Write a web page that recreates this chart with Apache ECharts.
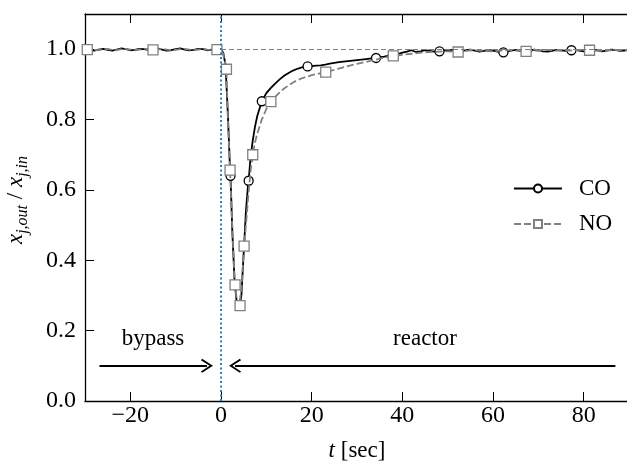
<!DOCTYPE html>
<html><head><meta charset="utf-8">
<script src="https://cdn.jsdelivr.net/npm/echarts@6/dist/echarts.min.js"></script>
<style>html,body{margin:0;padding:0;background:#fff}#c{width:627px;height:465px}</style>
</head><body><div id="c"></div>
<script>
// ---- data ----
const coT = [-30,-29,-28,-27,-26,-25,-24,-23,-22,-21,-20,-19,-18,-17,-16,-15,-14,-13,-12,-11,-10,-9,-8,-7,-6,-5,-4,-3,-2,-1,0,
  0.5,1,1.5,2,2.5,3,3.5,4,4.5,5,5.5,6,6.5,7,7.5,8,9,10,11,12,13,14,15,16,17,18,19,20,21,22,23,24,26,28,30,32,34,36,38,39,40,41,42,43,44,45,46,47,48,49,50,
  51,52,53,54,55,56,57,58,59,60,61,62,63,64,65,66,67,68,69,70,71,72,73,74,75,76,77,78,79,80,81,82,83,84,85,86,87,88,89,90];
const coY = [1.000,0.998,0.996,0.999,1.001,0.998,0.996,0.999,1.002,1.000,0.997,0.998,1.001,1.000,0.998,0.999,1.002,0.999,0.996,0.997,1.000,1.002,0.999,0.997,0.998,1.001,1.000,0.997,0.999,1.001,1.000,
  0.990,0.955,0.82,0.655,0.48,0.34,0.275,0.26,0.30,0.42,0.54,0.62,0.69,0.74,0.78,0.81,0.852,0.875,0.890,0.903,0.915,0.925,0.933,0.940,0.945,0.949,0.951,0.952,0.953,0.954,0.956,0.959,0.963,0.966,0.969,0.972,0.975,0.979,0.984,0.986,0.990,0.993,0.997,0.992,0.994,0.997,0.995,0.993,0.994,0.997,0.996,
  0.998,0.996,0.994,0.997,0.999,0.996,0.993,0.995,0.998,0.996,0.993,0.991,0.993,0.996,0.998,0.995,0.993,0.996,0.999,0.997,0.994,0.993,0.995,0.998,0.997,0.995,0.997,0.999,0.996,0.994,0.996,0.999,0.997,0.994,0.996,0.999,0.998,0.995,0.996,0.998];
const coMarkT = [2.1, 6.1, 9.0, 19.1, 34.2, 48.2, 62.3, 77.3];
const coMarkY = [0.640, 0.626, 0.852, 0.951, 0.975, 0.994, 0.991, 0.997];

const noT = [-30,-29,-28,-27,-26,-25,-24,-23,-22,-21,-20,-19,-18,-17,-16,-15,-14,-13,-12,-11,-10,-9,-8,-7,-6,-5,-4,-3,-2,-1,0,
  0.5,1,1.5,2,2.5,3,3.5,4,4.5,5,5.5,6,6.5,7,7.5,8,9,10,11,12,13,14,15,16,17,18,19,20,21,22,23,24,26,28,30,32,34,36,38,40,42,44,46,48,50,
  52,54,56,58,60,62,64,66,68,70,72,74,76,78,80,82,84,86,88,90];
const noY = [0.999,1.000,0.998,0.997,1.000,1.001,0.998,0.997,1.000,1.001,0.999,0.997,0.999,1.001,1.000,0.998,0.999,1.001,0.999,0.997,0.998,1.000,1.001,0.999,0.997,0.999,1.001,0.999,0.998,0.999,1.000,
  0.985,0.955,0.81,0.656,0.49,0.345,0.285,0.27,0.32,0.42,0.50,0.58,0.65,0.70,0.735,0.76,0.80,0.83,0.851,0.865,0.878,0.889,0.898,0.906,0.913,0.918,0.922,0.926,0.929,0.932,0.935,0.938,0.945,0.952,0.958,0.964,0.970,0.976,0.981,0.984,0.987,0.990,0.992,0.993,0.994,
  0.993,0.995,0.997,0.995,0.994,0.996,0.997,0.995,0.994,0.996,0.998,0.996,0.995,0.997,0.998,0.996,0.995,0.997,0.998,0.996];
const noMarkT = [-29.5, -15, -0.9, 1.2, 2.0, 3.1, 4.2, 5.1, 7.0, 11.0, 23.1, 38.0, 52.3, 67.3, 81.3];
const noMarkY = [0.999, 0.998, 0.999, 0.943, 0.656, 0.330, 0.271, 0.440, 0.700, 0.851, 0.935, 0.981, 0.992, 0.994, 0.997];

const xTicks = [-20, 0, 20, 40, 60, 80];
const yTicks = [0, 0.2, 0.4, 0.6, 0.8, 1.0];
const labels = {bypass: 'bypass', reactor: 'reactor'};

// ---- build ----
function merge(t, y, mt, my) {
  const pts = t.map((x, i) => ({value: [x, y[i]], symbol: 'none'}));
  mt.forEach((x, i) => pts.push({value: [x, my[i]]}));
  pts.sort((a, b) => a.value[0] - b.value[0]);
  return pts;
}
const SERIF = "Liberation Serif";
const chevron = 'path://M7,0 L14,10.8 L12.6,12 L7,3.4 L1.4,12 L0,10.8 Z';

const chart = echarts.init(document.getElementById('c'), null, {renderer: 'canvas'});
const axisCommon = {
  axisLine: {show: true, onZero: false, lineStyle: {color: '#000', width: 1.3}},
  splitLine: {show: false}
};
chart.setOption({
  animation: false,
  backgroundColor: '#fff',
  textStyle: {fontFamily: SERIF},
  grid: {left: 85, top: 14, bottom: 64, right: -2, containLabel: false, outerBoundsMode: 'none'},
  legend: {
    data: ['CO', 'NO'], orient: 'vertical', left: 513, top: 177, padding: 0,
    itemWidth: 48, itemHeight: 10, itemGap: 12.5,
    textStyle: {fontFamily: SERIF, fontSize: 23, color: '#000', padding: [0, 0, 0, 12]}
  },
  xAxis: [
    Object.assign({
      type: 'value', min: -30, max: 90, interval: 10, position: 'bottom',
      axisTick: {show: true, inside: true, length: 9, customValues: xTicks, lineStyle: {color: '#000'}},
      axisLabel: {show: true, margin: 3, fontFamily: SERIF, fontSize: 24, color: '#000', showMinLabel: false, showMaxLabel: false,
        formatter: v => (xTicks.indexOf(v) >= 0 ? String(v).replace('-', '\u2212') : '')},
      name: '{i|t} [sec]', nameLocation: 'middle', nameGap: 38,
      nameTextStyle: {fontFamily: SERIF, fontSize: 23, color: '#000',
        rich: {i: {fontFamily: SERIF, fontStyle: 'italic', fontSize: 23, color: '#000'}}}
    }, axisCommon),
    Object.assign({
      type: 'value', min: -30, max: 90, position: 'top',
      axisTick: {show: true, inside: true, length: 9, customValues: xTicks, lineStyle: {color: '#000'}},
      axisLabel: {show: false}
    }, axisCommon)
  ],
  yAxis: [
    Object.assign({
      type: 'value', min: 0, max: 1.1, interval: 0.2,
      axisTick: {show: true, inside: true, length: 9, customValues: yTicks, lineStyle: {color: '#000'}},
      axisLabel: {show: true, margin: 9, fontFamily: SERIF, fontSize: 24, color: '#000', showMaxLabel: false,
        formatter: v => (v <= 1.0001 ? v.toFixed(1) : '')},
      name: '{i|x}{s|j,out}{n| / }{i|x}{s|j,in}', nameLocation: 'middle', nameGap: 54, nameRotate: 90,
      nameTextStyle: {color: '#000', padding: [0, 0, 0, 15], rich: {
        i: {fontFamily: SERIF, fontStyle: 'italic', fontSize: 23, lineHeight: 30, color: '#000'},
        s: {fontFamily: SERIF, fontStyle: 'italic', fontSize: 16, lineHeight: 16, verticalAlign: 'bottom', color: '#000'},
        n: {fontFamily: SERIF, fontSize: 23, lineHeight: 30, color: '#000'}
      }}
    }, axisCommon)
  ],
  series: [
    {
      name: 'CO', type: 'line', z: 3,
      data: merge(coT, coY, coMarkT, coMarkY),
      symbol: 'circle', symbolSize: 9, showAllSymbol: true,
      itemStyle: {color: '#fff', borderColor: '#000', borderWidth: 1.3},
      lineStyle: {color: '#000', width: 1.8},
      markLine: {
        silent: true, symbol: ['none', 'none'], label: {show: false}, animation: false,
        data: [
          [{coord: [0, 1], lineStyle: {color: '#808080', width: 1, type: [5, 3]}}, {coord: [90, 1]}],
          [{coord: [0, 0], lineStyle: {color: '#2a7fc0', width: 2, type: [2, 2.5]}}, {coord: [0, 1.1]}],
          [{coord: [-26.8, 0.1], symbol: 'none', lineStyle: {color: '#000', width: 1.8, type: 'solid'}},
           {coord: [-3.1, 0.1], symbol: chevron, symbolSize: [14, 12]}],
          [{coord: [87, 0.1], symbol: 'none', lineStyle: {color: '#000', width: 1.8, type: 'solid'}},
           {coord: [3.1, 0.1], symbol: chevron, symbolSize: [14, 12]}]
        ]
      },
      markPoint: {
        silent: true, symbol: 'rect', symbolSize: 1, itemStyle: {color: 'rgba(0,0,0,0)'},
        label: {show: true, position: 'inside', fontFamily: SERIF, fontSize: 23, color: '#000'},
        data: [
          {coord: [-15, 0.177], label: {formatter: labels.bypass}},
          {coord: [45, 0.177], label: {formatter: labels.reactor}}
        ]
      }
    },
    {
      name: 'NO', type: 'line', z: 4,
      data: merge(noT, noY, noMarkT, noMarkY),
      symbol: 'rect', symbolSize: 10, showAllSymbol: true,
      itemStyle: {color: '#fff', borderColor: '#808080', borderWidth: 1.3},
      lineStyle: {color: '#808080', width: 1.8, type: [7, 3]}
    }
  ]
});
</script></body></html>
